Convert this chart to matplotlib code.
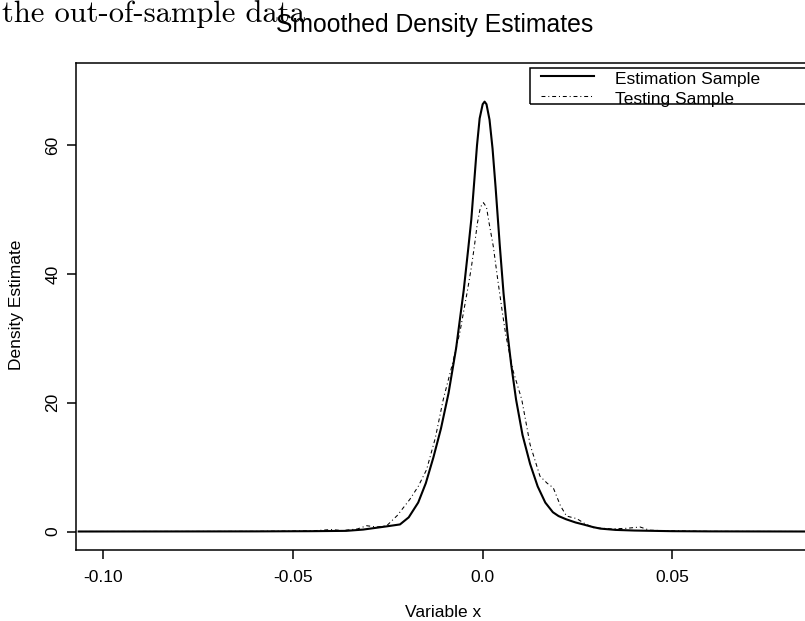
import matplotlib
matplotlib.use('Agg')
import matplotlib.pyplot as plt
from matplotlib.patches import Rectangle

# density curves
est_x = [-0.1065, -0.08, -0.06, -0.045, -0.036, -0.0315, -0.0253, -0.0218, -0.0195,
         -0.0170, -0.0150, -0.0130, -0.0110, -0.0090, -0.0070, -0.0050, -0.0038,
         -0.0030, -0.0022, -0.0015, -0.0008, 0.0000, 0.0005, 0.0010, 0.0018,
         0.0026, 0.0034, 0.0045, 0.0055, 0.0065, 0.0075, 0.0088, 0.0105, 0.0125,
         0.0145, 0.0165, 0.0185, 0.0200, 0.0220, 0.0245, 0.0265, 0.0290, 0.0310,
         0.0350, 0.0400, 0.0500, 0.0600, 0.0860]
est_y = [0.0, 0.01, 0.02, 0.05, 0.1, 0.3, 0.8, 1.1, 2.2,
         4.5, 7.5, 11.5, 16.0, 21.5, 28.5, 37.5, 44.0,
         48.5, 54.6, 60.0, 64.2, 66.4, 66.8, 66.4, 64.0,
         59.5, 53.5, 44.5, 37.0, 31.0, 26.0, 20.5, 15.0, 10.5,
         7.0, 4.5, 3.0, 2.4, 1.9, 1.4, 1.1, 0.7, 0.45,
         0.25, 0.15, 0.05, 0.02, 0.0]

test_x = [-0.1065, -0.08, -0.06, -0.045, -0.040, -0.037, -0.033, -0.0306, -0.028,
          -0.0253, -0.0225, -0.0192, -0.0170, -0.0148, -0.0125, -0.0104, -0.0080,
          -0.0060, -0.0040, -0.0030, -0.0022, -0.0014, -0.0006, 0.0002, 0.0010,
          0.0017, 0.0028, 0.0040, 0.0052, 0.0061, 0.0080, 0.0103, 0.0125, 0.0151,
          0.0170, 0.0186, 0.0205, 0.0221, 0.0248, 0.0270, 0.0292, 0.0340, 0.0380,
          0.0415, 0.0440, 0.0500, 0.0600, 0.0860]
test_y = [0.0, 0.01, 0.02, 0.1, 0.3, 0.15, 0.4, 0.9, 0.7,
          0.9, 2.5, 5.0, 7.0, 9.6, 14.5, 20.5, 26.0,
          31.0, 37.5, 41.0, 44.3, 47.9, 50.4, 51.1, 50.4,
          47.9, 44.3, 39.0, 34.0, 30.5, 25.0, 20.5, 13.5, 8.6,
          7.5, 6.8, 4.0, 2.4, 2.0, 1.2, 0.6, 0.4, 0.5,
          0.7, 0.2, 0.1, 0.02, 0.0]

xticks = [-0.10, -0.05, 0.0, 0.05]
xtick_labels = ['-0.10', '-0.05', '0.0', '0.05']
yticks = [0, 20, 40, 60]
legend_labels = ['Estimation Sample', 'Testing Sample']

plt.rcParams['font.family'] = 'Liberation Sans'
fs = 12.5

fig = plt.figure(figsize=(8.05, 6.21), dpi=100)
ax = fig.add_axes([0.094, 0.1151, 0.9085, 0.7834])

dotdash = (0, (3.75, 2.75, 1, 2.75))
ax.plot(est_x, est_y, color='black', lw=1.5)
ax.plot(test_x, test_y, color='black', lw=0.75, linestyle=dotdash)

ax.set_xlim(-0.1073, 0.0855)
ax.set_ylim(-2.8, 72.8)
ax.set_xticks(xticks)
ax.set_xticklabels(xtick_labels)
ax.set_yticks(yticks)
ax.set_yticklabels([str(v) for v in yticks], rotation=90, va='center')
ax.tick_params(length=6.5, width=1.1, labelsize=fs)
ax.tick_params(axis='x', pad=8)
ax.tick_params(axis='y', pad=4.5)
for side in ['left', 'bottom', 'top']:
    ax.spines[side].set_linewidth(1.1)
ax.spines['right'].set_visible(False)

# legend box drawn by hand (text crosses the bottom border as in the original)
ax.add_patch(Rectangle((0.6212, 0.9157), 0.5, 0.0746, transform=ax.transAxes,
                       fill=False, edgecolor='black', lw=1.1, clip_on=False))
ax.plot([0.6362, 0.7087], [0.9727, 0.9727], transform=ax.transAxes,
        color='black', lw=1.5, clip_on=False)
ax.plot([0.6362, 0.7087], [0.9328, 0.9328], transform=ax.transAxes,
        color='black', lw=0.75, linestyle=dotdash, clip_on=False)
ax.text(0.7375, 0.9562, legend_labels[0], transform=ax.transAxes,
        fontsize=fs, va='baseline')
ax.text(0.7375, 0.9150, legend_labels[1], transform=ax.transAxes,
        fontsize=fs, va='baseline')

fig.text(0.5404, 0.9595, 'Smoothed Density Estimates', ha='center', va='center',
         fontsize=17.8)
fig.text(0.5503, 0.0129, 'Variable x', ha='center', va='center', fontsize=fs)
fig.text(0.0211, 0.5089, 'Density Estimate', ha='center', va='center',
         rotation=90, fontsize=fs)

# stray line of document text above the figure
fig.text(0.0025, 0.9646, 'the out-of-sample data', family='cmr10',
         fontsize=22, va='baseline')

fig.savefig('out.png', dpi=100)
